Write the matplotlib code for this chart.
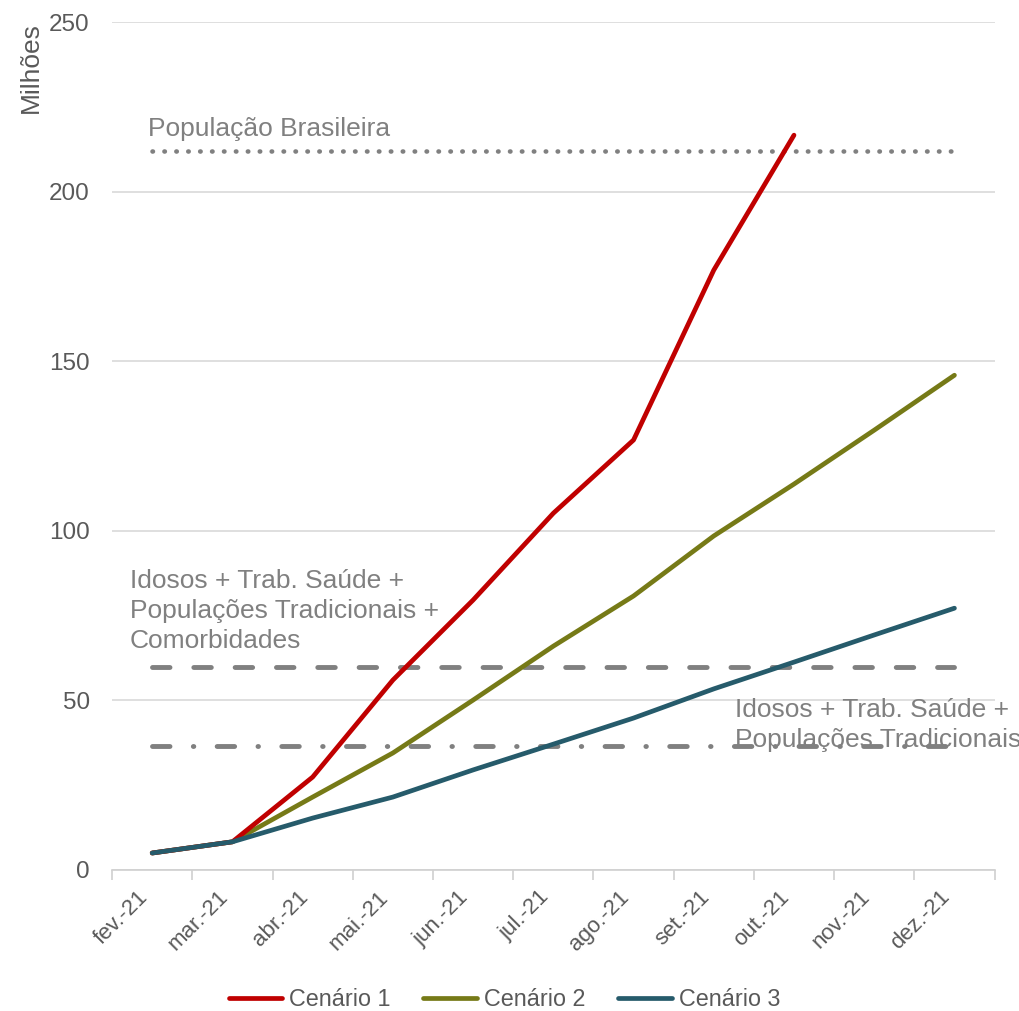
import numpy as np
import matplotlib
matplotlib.use('Agg')
import matplotlib.pyplot as plt

# meses (categorias)
meses = ['fev.-21', 'mar.-21', 'abr.-21', 'mai.-21', 'jun.-21', 'jul.-21',
         'ago.-21', 'set.-21', 'out.-21', 'nov.-21', 'dez.-21']

# milhões de pessoas vacinadas (acumulado)
cenario_1 = [5.0, 8.3, 27.4, 56.0, 79.6, 105.2, 126.8, 176.9, 216.7]
cenario_2 = [5.0, 8.3, 21.5, 34.5, 50.1, 66.0, 80.8, 98.5, 113.8, 129.7, 145.9]
cenario_3 = [5.0, 8.3, 15.3, 21.5, 29.5, 37.1, 44.8, 53.4, 61.3, 69.3, 77.2]

# referências horizontais
pop_brasileira = 212.0
grupo_com_comorb = 60.0
grupo_sem_comorb = 36.6

plt.rcParams['font.family'] = ['Liberation Sans', 'DejaVu Sans']

cinza_txt = '#595959'
cinza_lin = '#808080'

fig = plt.figure(figsize=(10.19, 10.11), dpi=100)
ax = fig.add_axes([0.110, 0.1395, 0.866, 0.8385])

x = np.arange(len(meses))

# linhas de referência
ax.plot(x, [pop_brasileira] * len(x), color=cinza_lin, linewidth=3.3,
        dashes=(0.1, 2.5), dash_capstyle='round', zorder=2)
ax.plot(x, [grupo_com_comorb] * len(x), color=cinza_lin, linewidth=3.5,
        dashes=(3.6, 4.9), dash_capstyle='round', zorder=2)
ax.plot(x, [grupo_sem_comorb] * len(x), color=cinza_lin, linewidth=3.5,
        dashes=(3.6, 4.8, 0.1, 4.8), dash_capstyle='round', zorder=2)

# cenários
ax.plot(x[:len(cenario_1)], cenario_1, color='#C00000', linewidth=3.4,
        label='Cenário 1', zorder=4, solid_capstyle='round')
ax.plot(x, cenario_2, color='#767A17', linewidth=3.4,
        label='Cenário 2', zorder=3, solid_capstyle='round')
ax.plot(x, cenario_3, color='#265B6B', linewidth=3.4,
        label='Cenário 3', zorder=5, solid_capstyle='round')

# textos
ax.text(-0.05, 216.5, 'População Brasileira', color=cinza_lin, fontsize=19,
        va='baseline', ha='left')
ax.text(-0.28, 64.1, 'Idosos + Trab. Saúde +\nPopulações Tradicionais +\nComorbidades',
        color=cinza_lin, fontsize=19, va='bottom', ha='left', linespacing=1.31)
ax.text(7.26, 34.8, 'Idosos + Trab. Saúde +\nPopulações Tradicionais',
        color=cinza_lin, fontsize=19, va='bottom', ha='left', linespacing=1.29,
        zorder=6)

ax.set_xlim(-0.5, len(meses) - 0.5)
ax.set_ylim(0, 250)
ax.set_yticks([0, 50, 100, 150, 200, 250])
ax.yaxis.grid(True, color='#D9D9D9', linewidth=1.2)
ax.set_axisbelow(True)

for s in ['left', 'right', 'top']:
    ax.spines[s].set_visible(False)
ax.spines['bottom'].set_color('#D0D0D0')
ax.spines['bottom'].set_linewidth(1.2)

ax.set_xticks(x)
ax.set_xticklabels(meses, rotation=45, ha='right', va='top',
                   fontsize=16, color=cinza_txt)
ax.set_xticks(np.arange(-0.5, len(meses)), minor=True)
ax.tick_params(axis='x', which='major', length=0, pad=12)
ax.tick_params(axis='x', which='minor', length=7, color='#D0D0D0', width=1.2)
ax.tick_params(axis='y', length=0, labelsize=17.5, labelcolor=cinza_txt, pad=16)

fig.text(0.03, 0.978, 'Milhões', rotation=90, va='top', ha='center',
         fontsize=19, color=cinza_txt)

ax.legend(loc='center', bbox_to_anchor=(0.4445, -0.153), ncol=3,
          frameon=False, fontsize=16.8, handlelength=2.3, handletextpad=0.3,
          columnspacing=1.4, labelcolor=cinza_txt)

fig.savefig('out.png', dpi=100)
